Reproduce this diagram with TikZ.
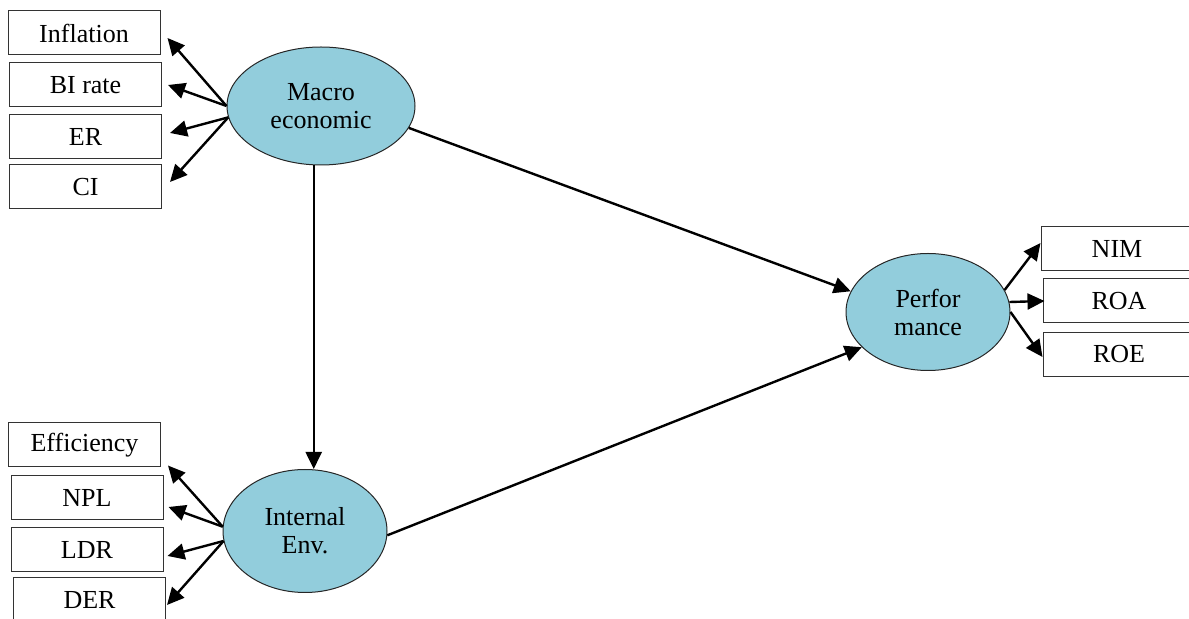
\documentclass[tikz,border=0pt]{standalone}
\usepackage{fontspec}
\setmainfont{Liberation Serif}
\usetikzlibrary{arrows.meta,shapes.geometric}
\definecolor{latentblue}{RGB}{146,205,220}
\tikzset{
  indicator/.style={draw=black!80, line width=0.5pt, minimum width=76pt, minimum height=22pt, inner sep=0pt, font=\fontsize{13}{14}\selectfont},
  construct/.style={ellipse, draw=black!85, line width=0.5pt, fill=latentblue, inner sep=0pt, align=center, font=\fontsize{13}{14}\selectfont},
  effect/.style={-{Triangle[length=8.5pt,width=8pt]}, line width=1.2pt}
}

\begin{document}
\begin{tikzpicture}[x=0.5pt, y=-0.5pt]
          \clip (0,0) rectangle (1189,619);
          % latent variables
          \node[construct, minimum width=94pt, minimum height=59pt] (Macro) at (321,106) {Macro\\economic};
          \node[construct, minimum width=82pt, minimum height=61.5pt] (Internal) at (305,531) {Internal\\Env.};
          \node[construct, minimum width=82pt, minimum height=58.5pt] (Performance) at (928,312) {Perfor\\mance};

          % indicators
          \node[indicator] (Inflation) at (84,33) {Inflation};
          \node[indicator] (BIrate) at (85.5,85) {BI rate};
          \node[indicator] (ER) at (85.5,136.5) {ER};
          \node[indicator] (CI) at (85.5,187) {CI};
          \node[indicator] (Efficiency) at (84.5,445) {Efficiency};
          \node[indicator] (NPL) at (87,498) {NPL};
          \node[indicator] (LDR) at (87,550) {LDR};
          \node[indicator] (DER) at (89.5,600) {DER};
          \node[indicator] (NIM) at (1117,249) {NIM};
          \node[indicator] (ROA) at (1119,301) {ROA};
          \node[indicator] (ROE) at (1119,354.5) {ROE};

          \draw[effect] (Macro.180) to ([xshift=3.5pt,yshift=-2.5pt]Inflation.east);
          \draw[effect] (Macro.180) to ([xshift=3pt]BIrate.east);
          \draw[effect] (Macro.187) to ([xshift=4pt,yshift=1.75pt]ER.east);
          \draw[effect] (Macro.187) to ([xshift=4pt,yshift=2.5pt]CI.east);

          \draw[effect] (Internal.177) to ([xshift=3.5pt,yshift=1pt]Efficiency.south east);
          \draw[effect] (Internal.177) to ([xshift=2.5pt,yshift=-4.5pt]NPL.east);
          \draw[effect] (Internal.187) to ([xshift=2pt,yshift=-3pt]LDR.east);
          \draw[effect] (Internal.187) to ([xshift=0.5pt,yshift=-2.5pt]DER.east);

          \draw[effect] (Performance.16) to ([yshift=3pt]NIM.west);
          \draw[effect] (Performance.7) to ([xshift=1pt]ROA.west);
          \draw[effect] (Performance.0) to ([yshift=-1.25pt]ROE.west);

          \draw[effect] (Macro.263) to (Macro.263 |- Internal.north);
          \draw[effect] (Macro.-14) to (Performance.165);
          \draw[effect] (Internal.-3) to (Performance.208);
        \end{tikzpicture}
\end{document}
